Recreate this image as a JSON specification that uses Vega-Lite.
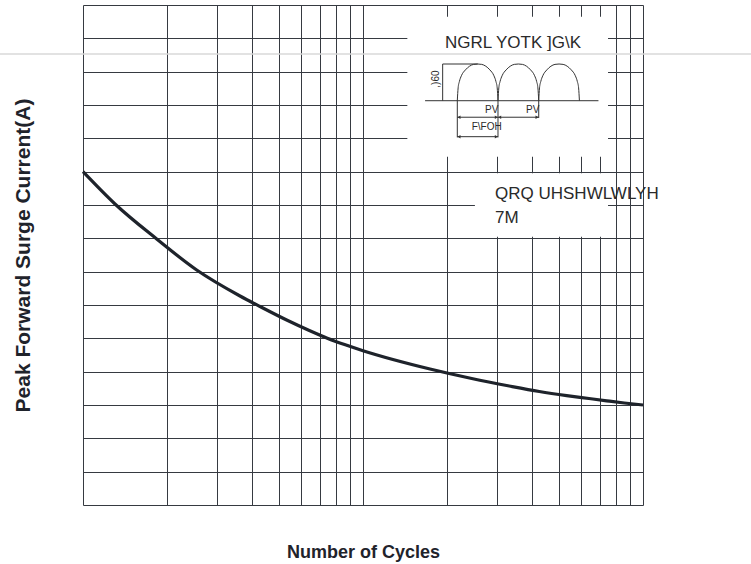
{
  "$schema": "https://vega.github.io/schema/vega-lite/v6.json",
  "width": 560,
  "height": 500,
  "autosize": {"type": "none"},
  "padding": {"left": 83, "top": 5, "right": 108, "bottom": 59},
  "background": "white",
  "config": {"view": {"stroke": null}, "font": "Liberation Sans"},
  "datasets": {
    "curve": [
      {"cycles": 1, "current": 100.0},
      {"cycles": 1.301, "current": 90.3},
      {"cycles": 1.833, "current": 79.8},
      {"cycles": 2.547, "current": 70.5},
      {"cycles": 3.637, "current": 62.7},
      {"cycles": 4.287, "current": 59.55},
      {"cycles": 5.384, "current": 55.35},
      {"cycles": 6.43, "current": 52.35},
      {"cycles": 7.456, "current": 50.04},
      {"cycles": 8.645, "current": 48.06},
      {"cycles": 10, "current": 46.29},
      {"cycles": 17.35, "current": 40.8},
      {"cycles": 24.45, "current": 37.95},
      {"cycles": 33.3, "current": 35.7},
      {"cycles": 42.62, "current": 34.05},
      {"cycles": 53.4, "current": 32.82},
      {"cycles": 64.14, "current": 31.95},
      {"cycles": 74.2, "current": 31.26},
      {"cycles": 85.74, "current": 30.6},
      {"cycles": 100, "current": 30.0}
    ],
    "masks": [
      {"x1": 14.4, "x2": 75, "y1": 104.5, "y2": 146.5},
      {"x1": 25.1, "x2": 75, "y1": 80.5, "y2": 99.5}
    ],
    "band": [
      {"x1": 0.5, "x2": 245, "current": 135.3}
    ],
    "inset_lines": [
      {"t": -6.6, "t2": 28.9, "v": 0, "v2": 0},
      {"t": -3, "t2": -3, "v": 0, "v2": 1},
      {"t": -3, "t2": 4.2, "v": 1, "v2": 1},
      {"t": 0, "t2": 16.67, "v": -0.45, "v2": -0.45},
      {"t": 0, "t2": 8.33, "v": -0.98, "v2": -0.98},
      {"t": 0, "t2": 0, "v": 0, "v2": -1},
      {"t": 8.33, "t2": 8.33, "v": 0, "v2": -1},
      {"t": 16.67, "t2": 16.67, "v": 0, "v2": -0.47}
    ],
    "arrows": [
      {"t": 0.35, "v": -0.45, "end": "start"},
      {"t": 7.98, "v": -0.45, "end": "end"},
      {"t": 8.68, "v": -0.45, "end": "start"},
      {"t": 16.32, "v": -0.45, "end": "end"},
      {"t": 0.35, "v": -0.98, "end": "start"},
      {"t": 7.98, "v": -0.98, "end": "end"}
    ],
    "humps": [
      {"hump": 1, "t": 0, "v": 0},
      {"hump": 1, "t": 0.167, "v": 0.35},
      {"hump": 1, "t": 0.417, "v": 0.52},
      {"hump": 1, "t": 0.833, "v": 0.68},
      {"hump": 1, "t": 1.667, "v": 0.84},
      {"hump": 1, "t": 2.5, "v": 0.94},
      {"hump": 1, "t": 3.333, "v": 0.99},
      {"hump": 1, "t": 4.167, "v": 1},
      {"hump": 1, "t": 5.0, "v": 0.99},
      {"hump": 1, "t": 5.833, "v": 0.94},
      {"hump": 1, "t": 6.667, "v": 0.84},
      {"hump": 1, "t": 7.5, "v": 0.68},
      {"hump": 1, "t": 7.917, "v": 0.52},
      {"hump": 1, "t": 8.167, "v": 0.35},
      {"hump": 1, "t": 8.333, "v": 0},
      {"hump": 2, "t": 8.333, "v": 0},
      {"hump": 2, "t": 8.5, "v": 0.35},
      {"hump": 2, "t": 8.75, "v": 0.52},
      {"hump": 2, "t": 9.167, "v": 0.68},
      {"hump": 2, "t": 10.0, "v": 0.84},
      {"hump": 2, "t": 10.833, "v": 0.94},
      {"hump": 2, "t": 11.667, "v": 0.99},
      {"hump": 2, "t": 12.5, "v": 1},
      {"hump": 2, "t": 13.333, "v": 0.99},
      {"hump": 2, "t": 14.167, "v": 0.94},
      {"hump": 2, "t": 15.0, "v": 0.84},
      {"hump": 2, "t": 15.833, "v": 0.68},
      {"hump": 2, "t": 16.25, "v": 0.52},
      {"hump": 2, "t": 16.5, "v": 0.35},
      {"hump": 2, "t": 16.667, "v": 0},
      {"hump": 3, "t": 16.667, "v": 0},
      {"hump": 3, "t": 16.833, "v": 0.35},
      {"hump": 3, "t": 17.083, "v": 0.52},
      {"hump": 3, "t": 17.5, "v": 0.68},
      {"hump": 3, "t": 18.333, "v": 0.84},
      {"hump": 3, "t": 19.167, "v": 0.94},
      {"hump": 3, "t": 20.0, "v": 0.99},
      {"hump": 3, "t": 20.833, "v": 1},
      {"hump": 3, "t": 21.667, "v": 0.99},
      {"hump": 3, "t": 22.5, "v": 0.94},
      {"hump": 3, "t": 23.333, "v": 0.84},
      {"hump": 3, "t": 24.167, "v": 0.68},
      {"hump": 3, "t": 24.583, "v": 0.52},
      {"hump": 3, "t": 24.833, "v": 0.35},
      {"hump": 3, "t": 25.0, "v": 0}
    ],
    "notes_big": [
      {"t": -2.52, "v": 1.428, "label": "NGRL YOTK ]G\\K"},
      {"t": 7.72, "v": -2.687, "label": "QRQ UHSHWLWLYH"},
      {"t": 7.72, "v": -3.34, "label": "7M"}
    ],
    "notes_small": [
      {"t": 5.67, "v": -0.343, "label": "PV"},
      {"t": 14.07, "v": -0.343, "label": "PV"},
      {"t": 2.95, "v": -0.8, "label": "F\\FOH"}
    ],
    "notes_vertical": [
      {"t": -3.85, "v": 0.59, "label": ",)60"}
    ]
  },
  "layer": [
    {
      "data": {"name": "curve"},
      "mark": {"type": "line", "color": "#1e232b", "strokeWidth": 3.2, "interpolate": "monotone"},
      "encoding": {
        "x": {
          "field": "cycles", "type": "quantitative",
          "scale": {"type": "log", "domain": [1, 100], "nice": false},
          "axis": {
            "values": [1, 2, 3, 4, 5, 6, 7, 8, 9, 10, 20, 30, 40, 50, 60, 70, 80, 90, 100],
            "grid": true, "gridColor": "#363a41", "gridOpacity": 1, "gridWidth": 1,
            "ticks": false, "labels": false, "domain": false,
            "title": "Number of Cycles", "titleFontSize": 18, "titleFontWeight": "bold",
            "titleColor": "#1f232b", "titlePadding": 38, "titleFont": "Liberation Sans"
          }
        },
        "y": {
          "field": "current", "type": "quantitative",
          "scale": {"domain": [0, 150], "nice": false, "zero": true},
          "axis": {
            "values": [0, 10, 20, 30, 40, 50, 60, 70, 80, 90, 100, 110, 120, 130, 140, 150],
            "grid": true, "gridColor": "#363a41", "gridOpacity": 1, "gridWidth": 1,
            "ticks": false, "labels": false, "domain": false,
            "title": "Peak Forward Surge Current(A)", "titleFontSize": 21, "titleFontWeight": "bold",
            "titleColor": "#1f232b", "titlePadding": 50, "titleFont": "Liberation Sans"
          }
        }
      }
    },
    {
      "data": {"name": "masks"},
      "mark": {"type": "rect", "color": "white", "opacity": 1},
      "encoding": {
        "x": {"field": "x1", "type": "quantitative", "scale": {"type": "log", "domain": [1, 100], "nice": false}, "axis": null},
        "x2": {"field": "x2"},
        "y": {"field": "y1", "type": "quantitative", "scale": {"domain": [0, 150], "nice": false, "zero": true}, "axis": null},
        "y2": {"field": "y2"}
      }
    },
    {
      "data": {"name": "band"},
      "mark": {"type": "rule", "color": "#d9d9d9", "strokeWidth": 1.6},
      "encoding": {
        "x": {"field": "x1", "type": "quantitative", "scale": {"type": "log", "domain": [1, 100], "nice": false}, "axis": null},
        "x2": {"field": "x2"},
        "y": {"field": "current", "type": "quantitative", "scale": {"domain": [0, 150], "nice": false, "zero": true}, "axis": null}
      }
    },
    {
      "data": {"name": "inset_lines"},
      "mark": {"type": "rule", "color": "#333333", "strokeWidth": 1},
      "encoding": {
        "x": {"field": "t", "type": "quantitative", "scale": {"domain": [-76.64, 38.02], "nice": false, "zero": false}, "axis": null},
        "x2": {"field": "t2"},
        "y": {"field": "v", "type": "quantitative", "scale": {"domain": [-11.016, 2.608], "nice": false, "zero": false}, "axis": null},
        "y2": {"field": "v2"}
      }
    },
    {
      "data": {"name": "humps"},
      "mark": {"type": "line", "color": "#333333", "strokeWidth": 1, "interpolate": "monotone"},
      "encoding": {
        "x": {"field": "t", "type": "quantitative", "scale": {"domain": [-76.64, 38.02], "nice": false, "zero": false}, "axis": null},
        "y": {"field": "v", "type": "quantitative", "scale": {"domain": [-11.016, 2.608], "nice": false, "zero": false}, "axis": null},
        "detail": {"field": "hump", "type": "nominal"}
      }
    },
    {
      "data": {"name": "arrows"},
      "mark": {"type": "point", "filled": true, "color": "#333333", "size": 12, "opacity": 1},
      "encoding": {
        "x": {"field": "t", "type": "quantitative", "scale": {"domain": [-76.64, 38.02], "nice": false, "zero": false}, "axis": null},
        "y": {"field": "v", "type": "quantitative", "scale": {"domain": [-11.016, 2.608], "nice": false, "zero": false}, "axis": null},
        "shape": {"field": "end", "type": "nominal", "scale": {"domain": ["start", "end"], "range": ["triangle-left", "triangle-right"]}, "legend": null}
      }
    },
    {
      "data": {"name": "notes_big"},
      "mark": {"type": "text", "align": "left", "baseline": "alphabetic", "fontSize": 17, "color": "#2a2a2a", "font": "Liberation Sans"},
      "encoding": {
        "x": {"field": "t", "type": "quantitative", "scale": {"domain": [-76.64, 38.02], "nice": false, "zero": false}, "axis": null},
        "y": {"field": "v", "type": "quantitative", "scale": {"domain": [-11.016, 2.608], "nice": false, "zero": false}, "axis": null},
        "text": {"field": "label", "type": "nominal"}
      }
    },
    {
      "data": {"name": "notes_small"},
      "mark": {"type": "text", "align": "left", "baseline": "alphabetic", "fontSize": 10, "color": "#2a2a2a", "font": "Liberation Sans"},
      "encoding": {
        "x": {"field": "t", "type": "quantitative", "scale": {"domain": [-76.64, 38.02], "nice": false, "zero": false}, "axis": null},
        "y": {"field": "v", "type": "quantitative", "scale": {"domain": [-11.016, 2.608], "nice": false, "zero": false}, "axis": null},
        "text": {"field": "label", "type": "nominal"}
      }
    },
    {
      "data": {"name": "notes_vertical"},
      "mark": {"type": "text", "align": "center", "baseline": "alphabetic", "angle": 270, "fontSize": 10, "color": "#2a2a2a", "font": "Liberation Sans"},
      "encoding": {
        "x": {"field": "t", "type": "quantitative", "scale": {"domain": [-76.64, 38.02], "nice": false, "zero": false}, "axis": null},
        "y": {"field": "v", "type": "quantitative", "scale": {"domain": [-11.016, 2.608], "nice": false, "zero": false}, "axis": null},
        "text": {"field": "label", "type": "nominal"}
      }
    }
  ],
  "resolve": {"scale": {"x": "independent", "y": "independent"}}
}
